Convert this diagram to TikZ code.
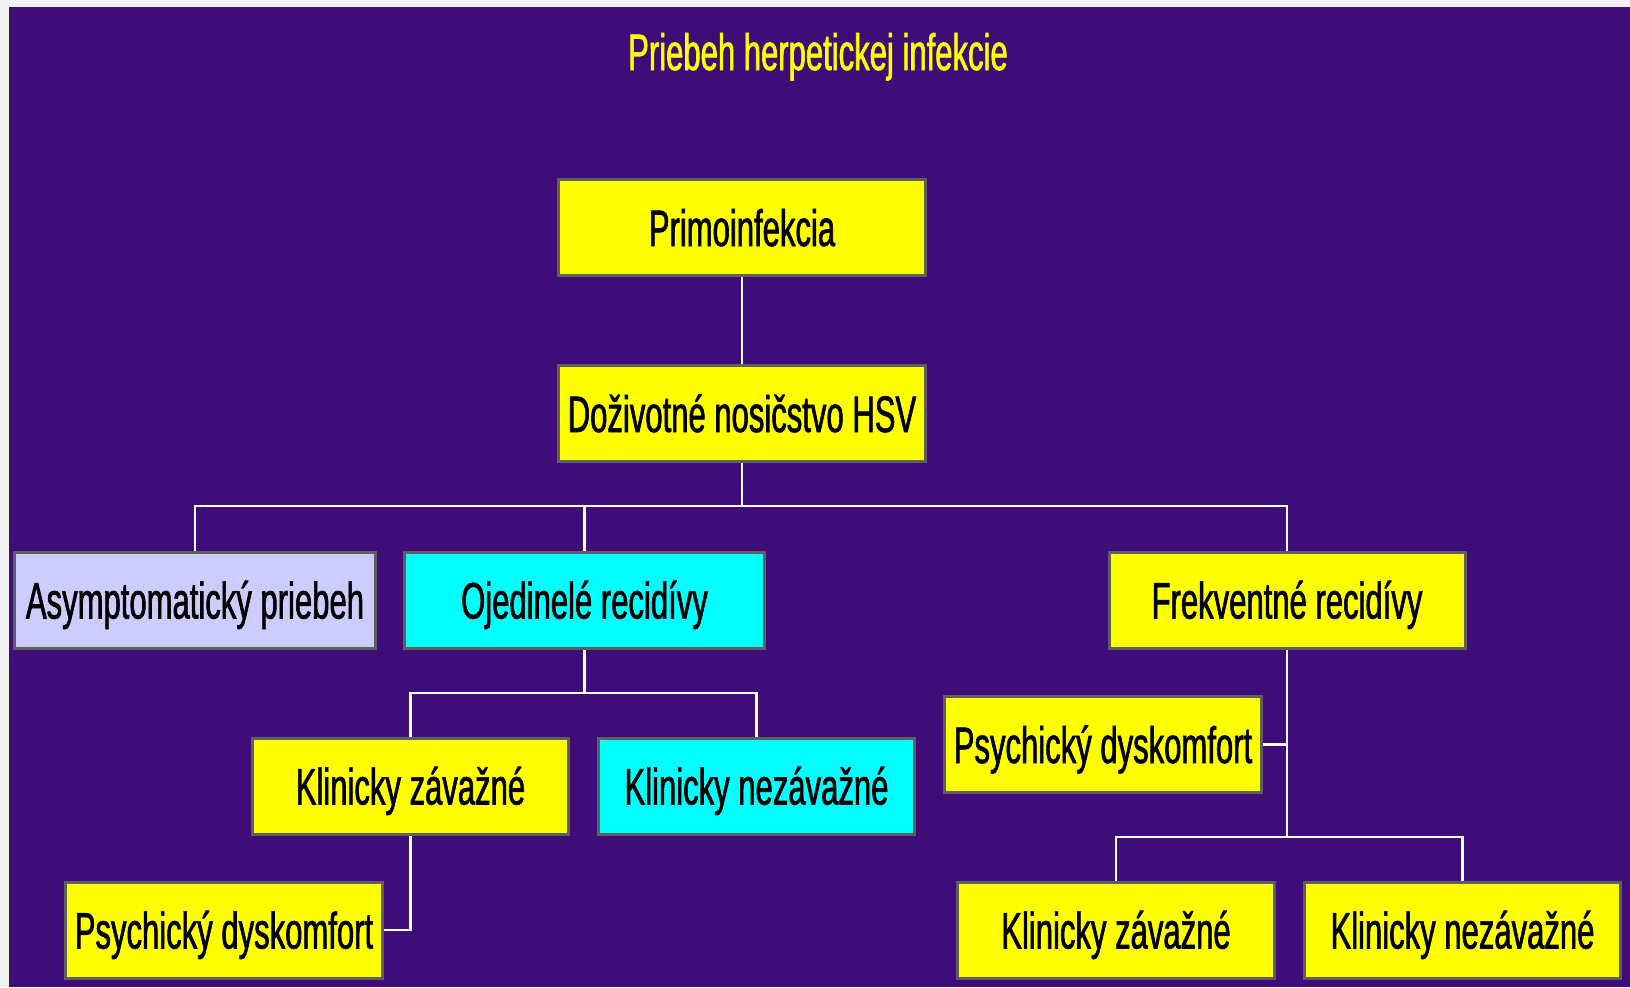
\documentclass[tikz,border=0pt]{standalone}
\usepackage{fontspec}
\setmainfont{Liberation Sans}[FakeStretch=0.605,FakeBold=1.2]
\definecolor{bgpurple}{RGB}{62,13,120}
\definecolor{pagegray}{RGB}{242,242,242}
\definecolor{boxedge}{RGB}{95,95,95}
\definecolor{boxyellow}{RGB}{255,255,0}
\definecolor{boxcyan}{RGB}{0,255,255}
\definecolor{boxlav}{RGB}{204,204,255}
\begin{document}
\begin{tikzpicture}[x=1bp,y=-1bp,
  lbl/.style={inner sep=0pt,text height=37bp,text depth=0pt,
    font=\fontsize{51.5}{60}\selectfont},
  box/.style={lbl,draw=boxedge,line width=3bp,text=black},
  widebox/.style={box,minimum width=#1,minimum height=96bp},
  conn/.style={draw=white,line width=2.2bp}]
\useasboundingbox (0,0) rectangle (1630,987);
\fill[pagegray] (0,0) rectangle (1630,987);
\fill[bgpurple] (9,7) rectangle (1630,987);

\node[lbl,text=boxyellow] (title) at (818,51.5) {Priebeh herpetickej infekcie};

\node[widebox=367bp,fill=boxyellow] (pi) at (742,227.5) {Primoinfekcia};
\node[widebox=367bp,fill=boxyellow] (dh) at (742,413.5) {Doživotné nosičstvo HSV};
\node[widebox=361bp,fill=boxlav] (as) at (195,600) {Asymptomatický priebeh};
\node[widebox=360bp,fill=boxcyan] (oj) at (584.5,600) {Ojedinelé recidívy};
\node[widebox=356bp,fill=boxyellow] (fr) at (1287,600) {Frekventné recidívy};
\node[widebox=316bp,fill=boxyellow] (kz1) at (410.5,786) {Klinicky závažné};
\node[widebox=316bp,fill=boxcyan] (kn1) at (756.5,786) {Klinicky nezávažné};
\node[widebox=317bp,fill=boxyellow] (pd1) at (224,930) {Psychický dyskomfort};
\node[widebox=317bp,fill=boxyellow] (pd2) at (1103,744.5) {Psychický dyskomfort};
\node[widebox=317bp,fill=boxyellow] (kz2) at (1116,930) {Klinicky závažné};
\node[widebox=316bp,fill=boxyellow] (kn2) at (1462.5,930) {Klinicky nezávažné};

\coordinate (bus1) at (742,506);
\coordinate (bus2) at (584.5,693);
\coordinate (bus3) at (1287,837);

\begin{scope}[conn]
\draw (pi.south) -- (dh.north);
\draw (dh.south) -- (bus1);
\draw (as.north) |- (bus1);
\draw (oj.north) |- (bus1);
\draw (fr.north) |- (bus1);
\draw (oj.south) -- (bus2);
\draw (kz1.north) |- (bus2);
\draw (kn1.north) |- (bus2);
\draw (kz1.south) |- (pd1.east);
\draw (fr.south) -- (bus3);
\draw (pd2.east) -- (pd2.east -| fr.south);
\draw (kz2.north) |- (bus3);
\draw (kn2.north) |- (bus3);
\end{scope}
\end{tikzpicture}
\end{document}
